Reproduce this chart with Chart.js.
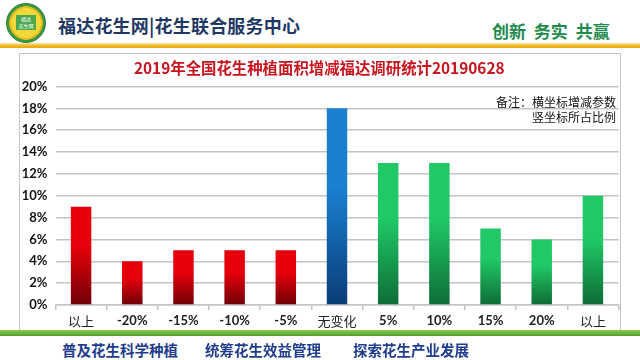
<!DOCTYPE html>
<html><head><meta charset="utf-8">
<script src="https://cdn.jsdelivr.net/npm/chart.js@4/dist/chart.umd.min.js"></script>
<style>
html,body{margin:0;padding:0;background:#fff;width:640px;height:360px;overflow:hidden;font-family:"Noto Sans CJK SC",sans-serif;}
#logo{position:absolute;left:6px;top:3px;width:38px;height:38px;border-radius:50%;background:radial-gradient(circle,#f3d83a 0 55%,#e0b820 56% 62%,#3b9a3f 63% 100%);border:1px solid #2f7d34;}
#logo span{position:absolute;left:9px;top:11px;width:20px;height:15px;background:#4aa84e;color:#fff;font-size:5px;line-height:7px;text-align:center;}
#hl{position:absolute;left:58px;top:12px;font-size:18px;font-weight:bold;color:#1f3864;white-space:nowrap;letter-spacing:0.2px;}
#hr{position:absolute;left:492px;top:18px;font-size:17px;font-weight:bold;color:#1e8a4c;white-space:nowrap;word-spacing:4px;}
#gold{position:absolute;left:0;top:43px;width:640px;height:5px;background:linear-gradient(#fbe7a0,#f0b41c 60%,#e8a810);}
#box{position:absolute;left:19px;top:53px;width:600px;height:280px;border:1px solid #c4c4c4;border-bottom:none;}
#wrap{position:absolute;left:20px;top:53px;width:600px;height:278px;}
#note{position:absolute;right:24px;top:94px;font-size:12px;line-height:15px;color:#111;text-align:right;white-space:nowrap;}
#green{position:absolute;left:0;top:330px;width:640px;height:6px;background:linear-gradient(#8ccc50,#4e9e2a);}
.ft{position:absolute;top:339px;font-size:14.5px;font-weight:bold;color:#1f3d8c;white-space:nowrap;}
</style></head>
<body>
<div id="logo"><span>福达<br>花生网</span></div>
<div id="hl">福达花生网|花生联合服务中心</div>
<div id="hr">创新 务实 共赢</div>
<div id="gold"></div>
<div id="box"></div>
<div id="wrap"><canvas id="c" width="600" height="278"></canvas></div>
<div id="note">备注：横坐标增减参数<br>竖坐标所占比例</div>
<div id="green"></div>
<div class="ft" style="left:62px">普及花生科学种植</div>
<div class="ft" style="left:205px">统筹花生效益管理</div>
<div class="ft" style="left:353px">探索花生产业发展</div>
<script>
const categories = ['以上','-20%','-15%','-10%','-5%','无变化','5%','10%','15%','20%','以上'];
const shares = [9,4,5,5,5,18,13,13,7,6,10];
const yTickValues = [0,2,4,6,8,10,12,14,16,18,20];
const titleText = '2019年全国花生种植面积增减福达调研统计20190628';

function barColors(i){
  if(i<5) return ['#e6000c','#700006'];
  if(i===5) return ['#1a80d2','#0a3c76'];
  return ['#20c866','#0d6c36'];
}
const ctx = document.getElementById('c').getContext('2d');
new Chart(ctx,{
  type:'bar',
  data:{labels:categories,datasets:[{data:shares,
    backgroundColor:(c)=>{
      const ch=c.chart; const i=c.dataIndex; const cols=barColors(i);
      if(!ch.chartArea || !ch.scales.y) return cols[0];
      const y=ch.scales.y;
      const top=y.getPixelForValue(shares[i]); const bot=y.getPixelForValue(0);
      const g=ch.ctx.createLinearGradient(0,top,0,bot);
      g.addColorStop(0,cols[0]); g.addColorStop(0.4,cols[0]); g.addColorStop(1,cols[1]);
      return g;
    },
    borderWidth:0,barPercentage:0.4,categoryPercentage:1}]},
  options:{
    responsive:false,animation:false,
    layout:{padding:{left:0,right:1.5,top:0,bottom:0}},
    plugins:{legend:{display:false},tooltip:{enabled:false},
      title:{display:true,text:titleText,color:'#c8141e',font:{family:'Noto Sans CJK SC',size:15.4,weight:'bold'},padding:{top:6,bottom:9}}},
    scales:{
      x:{grid:{display:true,drawOnChartArea:false,drawTicks:true,tickLength:5,color:'#c4c4c4',lineWidth:1.5,offset:true},
        border:{display:true,color:'#c4c4c4',width:1.5},
        ticks:{color:'#222',padding:3,
          font:(c)=>{const l=categories[c.index]||''; const cjk=/[\u4e00-\u9fff]/.test(l);
            return cjk?{family:'Noto Sans CJK SC',size:13,weight:'normal'}:{family:'Lato',size:13,weight:'bold'};}},
        afterFit:(s)=>{s.height=26;}},
      y:{min:0,max:20,
        afterBuildTicks:(s)=>{s.ticks=yTickValues.map(v=>({value:v}));},
        grid:{color:'#c4c4c4',lineWidth:1.5,drawTicks:false},
        border:{display:false},
        ticks:{padding:8,color:'#111',font:{family:'Lato',size:13,weight:'bold'},callback:(v)=>v+'%'},
        afterFit:(s)=>{s.width=35.5;}}
    }
  }
});
</script>
</body></html>
